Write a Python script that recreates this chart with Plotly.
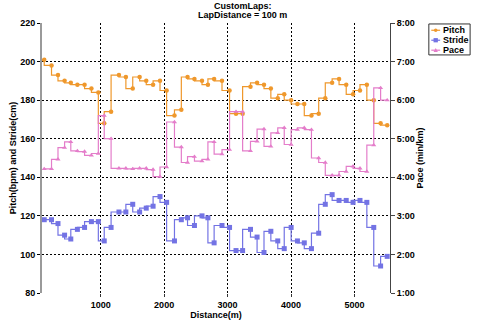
import plotly.graph_objects as go

# ---- data ----
distance_m = [110, 225, 327, 431, 529, 633, 746, 854, 963, 1056,
              1164, 1288, 1397, 1505, 1614, 1718, 1826, 1935, 2039, 2163,
              2271, 2369, 2478, 2597, 2690, 2788, 2912, 3031, 3133, 3237,
              3361, 3465, 3574, 3682, 3791, 3893, 4002, 4101, 4209, 4322,
              4436, 4540, 4648, 4757, 4870, 4978, 5087, 5195, 5304, 5412, 5516]

pitch_bpm = [201, 198, 193, 190, 189, 188, 188, 186, 184, 168,
             174, 193, 192, 186, 192, 190, 188, 190, 185, 172,
             175, 192, 191, 190, 188, 191, 190, 185, 173, 173,
             187, 189, 188, 186, 181, 183, 180, 178, 178, 172,
             173, 181, 189, 191, 188, 183, 185, 188, 180, 168, 167]

stride_cm = [118, 118, 116, 110, 108, 113, 114, 117, 117, 107,
             114, 122, 122, 126, 122, 124, 125, 130, 127, 107,
             118, 119, 115, 120, 119, 106, 115, 114, 102, 102,
             113, 109, 101, 112, 107, 103, 114, 107, 106, 103,
             111, 126, 131, 128, 128, 127, 128, 127, 114, 94, 99]

pace_sec_per_km = [253, 253, 268, 286, 295, 281, 280, 274, 277, 336,
                   300, 254, 254, 253, 254, 254, 252, 241, 256, 326,
                   287, 263, 272, 265, 268, 295, 276, 283, 342, 342,
                   281, 296, 315, 288, 309, 317, 291, 314, 317, 314,
                   270, 263, 243, 243, 249, 257, 254, 249, 290, 379, 360]

left_ticks = [80, 100, 120, 140, 160, 180, 200, 220]
x_ticks = [1000, 2000, 3000, 4000, 5000]
pace_ticks_min = [1, 2, 3, 4, 5, 6, 7, 8]
pace_tick_labels = ["1:00", "2:00", "3:00", "4:00", "5:00", "6:00", "7:00", "8:00"]
series_names = ["Pitch", "Stride", "Pace"]
title_lines = ["CustomLaps:", "LapDistance = 100 m"]

# ---- styling ----
ORANGE = "#EF982C"
BLUE = "#7373E4"
PINK = "#E47DCA"
COLORS = [ORANGE, BLUE, PINK]
FONT = "Liberation Sans"
TXT = dict(family=FONT, size=9, color="black", weight="bold")

# plot-area geometry (pixels) for placing legend / title in paper coords
L, T, W, H = 36, 23, 354, 279


def px(x):
    return (x - L) / W


def py(y):
    return (T + H - y) / H


pace_min = [s / 60.0 for s in pace_sec_per_km]

fig = go.Figure()
fig.add_trace(go.Scatter(
    x=distance_m, y=pitch_bpm, name=series_names[0], mode="lines+markers",
    line=dict(color=ORANGE, width=1.2, shape="vh"),
    marker=dict(symbol="circle", size=4.5, color=ORANGE), showlegend=False))
fig.add_trace(go.Scatter(
    x=distance_m, y=stride_cm, name=series_names[1], mode="lines+markers",
    line=dict(color=BLUE, width=1.2, shape="vh"),
    marker=dict(symbol="square", size=5, color=BLUE), showlegend=False))
fig.add_trace(go.Scatter(
    x=distance_m, y=pace_min, name=series_names[2], mode="lines+markers", yaxis="y2",
    line=dict(color=PINK, width=1.2, shape="vh"),
    marker=dict(symbol="triangle-up", size=4.5, color=PINK), showlegend=False))

grid = dict(showgrid=True, gridcolor="black", gridwidth=1, griddash="2px,2px")

# ---- legend box (drawn as shapes + text) ----
shapes = [dict(type="rect", xref="paper", yref="paper",
               x0=px(429.5), x1=px(471.5), y0=py(56), y1=py(24),
               line=dict(color="#333", width=1), fillcolor="white")]
annotations = []
rows_y = [30.5, 40.8, 51.1]
for i, (name, col) in enumerate(zip(series_names, COLORS)):
    yy = rows_y[i]
    shapes.append(dict(type="line", xref="paper", yref="paper",
                       x0=px(432), x1=px(441), y0=py(yy), y1=py(yy),
                       line=dict(color=col, width=1.2)))
    cx = 436.5
    if i == 0:
        shapes.append(dict(type="circle", xref="paper", yref="paper",
                           x0=px(cx - 1.8), x1=px(cx + 1.8), y0=py(yy + 1.8), y1=py(yy - 1.8),
                           line=dict(color=col, width=0), fillcolor=col))
    elif i == 1:
        shapes.append(dict(type="rect", xref="paper", yref="paper",
                           x0=px(cx - 2.2), x1=px(cx + 2.2), y0=py(yy + 2.2), y1=py(yy - 2.2),
                           line=dict(color=col, width=0), fillcolor=col))
    else:
        shapes.append(dict(type="path", xref="paper", yref="paper",
                           path="M {} {} L {} {} L {} {} Z".format(
                               px(cx - 2.2), py(yy + 1.8), px(cx + 2.2), py(yy + 1.8),
                               px(cx), py(yy - 2.2)),
                           line=dict(color=col, width=0), fillcolor=col))
    annotations.append(dict(text=name, xref="paper", yref="paper", x=px(442), y=py(yy),
                            xanchor="left", yanchor="middle", showarrow=False, font=TXT))

# ---- two-line title ----
for txt, yy in zip(title_lines, [5.5, 14.5]):
    annotations.append(dict(text=txt, xref="paper", yref="paper", x=px(240), y=py(yy),
                            xanchor="center", yanchor="middle", showarrow=False, font=TXT))

fig.update_layout(
    width=480, height=329,
    margin=dict(l=L, r=480 - L - W, t=T, b=329 - T - H),
    paper_bgcolor="white", plot_bgcolor="white",
    font=TXT,
    showlegend=False,
    xaxis=dict(range=[75, 5560], tickvals=x_ticks, ticks="outside", ticklen=3,
               tickcolor="#333", zeroline=False, showline=False,
               tickfont=TXT,
               title=dict(text="Distance(m)", standoff=1, font=TXT),
               **grid),
    yaxis=dict(range=[80, 220], tickvals=left_ticks, ticks="outside", ticklen=3,
               tickcolor="black", zeroline=False, showline=True, linecolor="#9a9a9a",
               linewidth=2, tickfont=TXT,
               title=dict(text="Pitch(bpm) and Stride(cm)", standoff=2, font=TXT),
               **grid),
    yaxis2=dict(range=[1, 8], tickvals=pace_ticks_min, ticktext=pace_tick_labels,
                overlaying="y", side="right", ticks="outside", ticklen=4,
                tickcolor="#444", showgrid=False, zeroline=False, showline=True,
                linecolor="#444", linewidth=1, tickfont=TXT,
                title=dict(text="Pace (min/km)", standoff=0, font=TXT)),
    shapes=shapes,
    annotations=annotations,
)

fig.write_html("out.html")
